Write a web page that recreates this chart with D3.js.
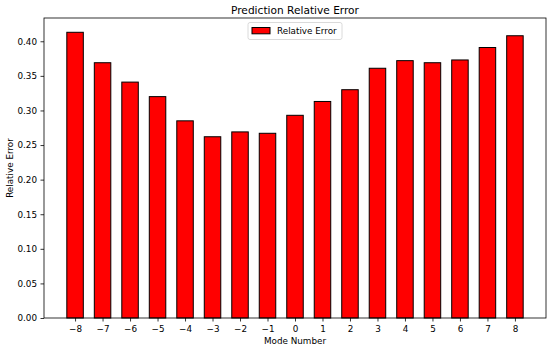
<!DOCTYPE html>
<html>
<head>
<meta charset="utf-8">
<script src="https://cdn.jsdelivr.net/npm/d3@7"></script>
<style>
  body { margin: 0; background: #fff; }
  text { font-family: "DejaVu Sans", sans-serif; fill: #000; }
</style>
</head>
<body>
<div id="chart-container"></div>
<script>
// Mode numbers on the x axis
const modes = [-8, -7, -6, -5, -4, -3, -2, -1, 0, 1, 2, 3, 4, 5, 6, 7, 8];
// Relative error per mode
const relError = [0.413, 0.369, 0.341, 0.320, 0.285, 0.262, 0.269, 0.267, 0.293, 0.313, 0.330, 0.361, 0.372, 0.369, 0.373, 0.391, 0.408];
// Y tick values
const yTicks = [0.00, 0.05, 0.10, 0.15, 0.20, 0.25, 0.30, 0.35, 0.40];

const width = 550, height = 349;
const margin = { left: 44, right: 4, top: 18, bottom: 31 };
const barWidth = 0.6;

const svg = d3.select("#chart-container")
  .append("svg")
  .attr("width", width)
  .attr("height", height);

// x domain like matplotlib: bar extent plus 5% margins
const xMin = d3.min(modes) - barWidth / 2, xMax = d3.max(modes) + barWidth / 2;
const xPad = (xMax - xMin) * 0.05;
const xScale = d3.scaleLinear()
  .domain([xMin - xPad, xMax + xPad])
  .range([margin.left, width - margin.right]);

const yScale = d3.scaleLinear()
  .domain([0, d3.max(relError) * 1.05])
  .range([height - margin.bottom, margin.top]);

// Bars
svg.selectAll("rect.bar")
  .data(modes)
  .enter()
  .append("rect")
  .attr("class", "bar")
  .attr("x", d => xScale(d - barWidth / 2))
  .attr("width", d => xScale(barWidth) - xScale(0))
  .attr("y", (d, i) => yScale(relError[i]))
  .attr("height", (d, i) => yScale(0) - yScale(relError[i]))
  .attr("fill", "#ff0000")
  .attr("stroke", "#000")
  .attr("stroke-width", 1);

// Axes
const xAxis = d3.axisBottom(xScale)
  .tickValues(modes)
  .tickFormat(d => d < 0 ? "\u2212" + Math.abs(d) : d)
  .tickSize(3.5)
  .tickPadding(4.5);

const yAxis = d3.axisLeft(yScale)
  .tickValues(yTicks)
  .tickFormat(d3.format(".2f"))
  .tickSize(3.5)
  .tickPadding(3.5);

const gx = svg.append("g")
  .attr("transform", `translate(0,${height - margin.bottom})`)
  .call(xAxis);
const gy = svg.append("g")
  .attr("transform", `translate(${margin.left},0)`)
  .call(yAxis);

[gx, gy].forEach(g => {
  g.select(".domain").remove();
  g.selectAll(".tick line").attr("stroke", "#000").attr("stroke-width", 0.8);
  g.selectAll(".tick text").attr("font-size", "8.8px").attr("font-family", "DejaVu Sans").attr("fill", "#000");
});

// Frame
svg.append("rect")
  .attr("x", margin.left)
  .attr("y", margin.top)
  .attr("width", width - margin.right - margin.left)
  .attr("height", height - margin.bottom - margin.top)
  .attr("fill", "none")
  .attr("stroke", "#000")
  .attr("stroke-width", 0.8);

// Title and axis labels
const cx = (margin.left + width - margin.right) / 2;
svg.append("text")
  .attr("x", cx)
  .attr("y", 13.5)
  .attr("text-anchor", "middle")
  .attr("font-size", "10.6px")
  .text("Prediction Relative Error");

svg.append("text")
  .attr("x", cx)
  .attr("y", 343.5)
  .attr("text-anchor", "middle")
  .attr("font-size", "8.8px")
  .text("Mode Number");

svg.append("text")
  .attr("transform", "rotate(-90)")
  .attr("x", -(margin.top + height - margin.bottom) / 2)
  .attr("y", 12.5)
  .attr("text-anchor", "middle")
  .attr("font-size", "8.8px")
  .text("Relative Error");

// Legend (upper center)
const legend = svg.append("g").attr("transform", `translate(${cx - 47},22.5)`);
legend.append("rect")
  .attr("width", 94).attr("height", 17)
  .attr("rx", 2)
  .attr("fill", "#fff").attr("fill-opacity", 0.8)
  .attr("stroke", "#d0d0d0").attr("stroke-width", 0.8);
legend.append("rect")
  .attr("x", 4).attr("y", 5)
  .attr("width", 18).attr("height", 6.3)
  .attr("fill", "#ff0000").attr("stroke", "#000").attr("stroke-width", 1);
legend.append("text")
  .attr("x", 29).attr("y", 11.5)
  .attr("font-size", "8.8px")
  .text("Relative Error");
</script>
</body>
</html>
